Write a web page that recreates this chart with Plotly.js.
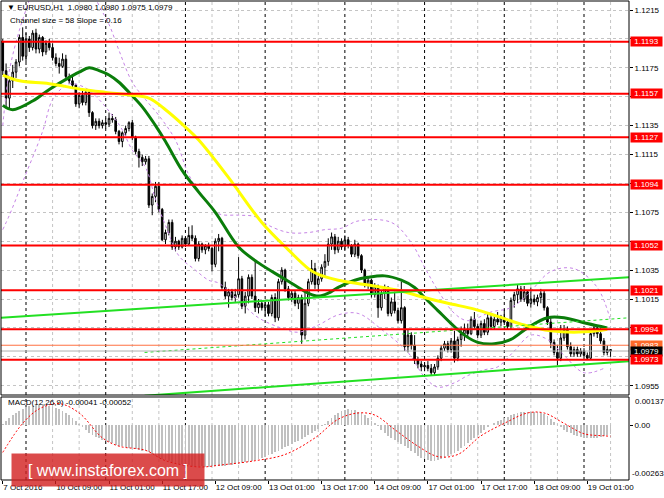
<!DOCTYPE html>
<html>
<head>
<meta charset="utf-8">
<script src="https://cdn.plot.ly/plotly-3.0.1.min.js"></script>
<style>html,body{margin:0;padding:0;background:#fff}#chart{width:664px;height:498px}</style>
</head>
<body>
<div id="chart"></div>
<script>
// ---- EURUSD H1 candles (7 Oct 2016 17:00 .. 19 Oct 2016 08:00) ----
const open = [
1.1193,1.1173,1.1154,1.1166,1.1172,1.1179,1.1196,1.1183,1.1195,1.1189,
1.1199,1.1188,1.1196,1.1186,1.1192,1.1189,1.1182,1.1178,1.1176,1.1181,
1.1169,1.1166,1.1163,1.1150,1.1156,1.1151,1.1158,1.1144,1.1135,1.1138,
1.1135,1.1137,1.1136,1.1140,1.1139,1.1131,1.1124,1.1130,1.1133,1.1137,
1.1127,1.1117,1.1113,1.1110,1.1112,1.1080,1.1086,1.1093,1.1077,1.1056,
1.1061,1.1068,1.1051,1.1055,1.1051,1.1057,1.1053,1.1059,1.1057,1.1043,
1.1053,1.1049,1.1052,1.1050,1.1039,1.1055,1.1057,1.1023,1.1017,1.1020,
1.1016,1.1018,1.1029,1.1010,1.1017,1.1030,1.1017,1.1009,1.1012,1.1009,
1.1011,1.1005,1.1016,1.1002,1.1027,1.1035,1.1022,1.1016,1.1019,1.1012,
1.1016,1.0990,1.1012,1.1027,1.1036,1.1025,1.1029,1.1037,1.1041,1.1053,
1.1058,1.1049,1.1055,1.1051,1.1056,1.1052,1.1046,1.1053,1.1045,1.1035,
1.1025,1.1028,1.1018,1.1024,1.1009,1.1019,1.1023,1.1005,1.1013,1.1007,
1.1000,1.1009,1.0982,1.0990,1.0983,1.0973,1.0970,1.0968,1.0969,1.0967,
1.0964,1.0968,1.0974,1.0981,1.0984,1.0980,1.0986,1.0974,1.0987,1.0991,
1.0994,1.0991,1.1001,1.0996,1.0990,1.0998,1.0992,1.1002,1.0996,1.1001,
1.0999,1.1002,1.0999,1.0996,1.1014,1.1018,1.1022,1.1015,1.1020,1.1012,
1.1015,1.1013,1.1016,1.1019,1.1009,1.0999,1.0985,1.0978,1.0974,1.0988,
1.0994,1.0982,1.0977,1.0980,1.0977,1.0979,1.0976,1.0974,1.0991,1.0995,
1.0991,1.0986,1.0978,1.0980];
const high = [
1.1195,1.1178,1.1168,1.1177,1.1181,1.1198,1.1203,1.1199,1.1197,1.1201,
1.1202,1.1198,1.1197,1.1194,1.1195,1.1192,1.1185,1.1182,1.1185,1.1184,
1.1171,1.1169,1.1164,1.1158,1.1159,1.1160,1.1160,1.1145,1.1140,1.1140,
1.1139,1.1140,1.1144,1.1143,1.1141,1.1132,1.1131,1.1135,1.1138,1.1139,
1.1128,1.1119,1.1115,1.1114,1.1114,1.1088,1.1096,1.1096,1.1078,1.1063,
1.1070,1.1070,1.1058,1.1056,1.1059,1.1058,1.1065,1.1066,1.1059,1.1055,
1.1054,1.1053,1.1054,1.1051,1.1057,1.1060,1.1058,1.1027,1.1022,1.1022,
1.1022,1.1044,1.1031,1.1020,1.1032,1.1032,1.1042,1.1015,1.1014,1.1013,
1.1013,1.1018,1.1019,1.1029,1.1037,1.1036,1.1024,1.1021,1.1021,1.1018,
1.1018,1.1021,1.1029,1.1042,1.1040,1.1031,1.1039,1.1046,1.1057,1.1061,
1.1060,1.1058,1.1057,1.1059,1.1058,1.1053,1.1056,1.1054,1.1046,1.1036,
1.1030,1.1029,1.1026,1.1025,1.1021,1.1025,1.1024,1.1016,1.1020,1.1009,
1.1027,1.1010,1.0994,1.0992,1.0990,1.0975,1.0972,1.0971,1.0972,1.0970,
1.0970,1.0976,1.0983,1.0986,1.0986,1.0988,1.0993,1.0989,1.0996,1.0998,
1.0998,1.1003,1.1006,1.0998,1.1000,1.1001,1.1005,1.1004,1.1003,1.1006,
1.1004,1.1008,1.1001,1.1016,1.1020,1.1025,1.1024,1.1024,1.1021,1.1023,
1.1018,1.1018,1.1022,1.1021,1.1010,1.1003,1.0987,1.0983,1.0997,1.0997,
1.0996,1.0985,1.0982,1.0982,1.0981,1.0981,1.0978,1.0993,1.0997,1.0997,
1.0995,1.0988,1.0983,1.0980];
const low = [
1.1170,1.1147,1.1146,1.1161,1.1168,1.1176,1.1180,1.1179,1.1186,1.1187,
1.1185,1.1185,1.1183,1.1184,1.1187,1.1180,1.1176,1.1171,1.1175,1.1167,
1.1164,1.1161,1.1148,1.1147,1.1149,1.1149,1.1141,1.1133,1.1132,1.1133,
1.1133,1.1133,1.1134,1.1137,1.1129,1.1122,1.1120,1.1128,1.1131,1.1125,
1.1115,1.1106,1.1107,1.1108,1.1078,1.1073,1.1082,1.1075,1.1055,1.1053,
1.1059,1.1049,1.1048,1.1049,1.1050,1.1051,1.1052,1.1055,1.1041,1.1041,
1.1047,1.1046,1.1048,1.1034,1.1037,1.1048,1.1021,1.1015,1.1009,1.1014,
1.1013,1.1016,1.1008,1.1005,1.1012,1.1015,1.1006,1.1005,1.1007,1.1003,
1.1003,1.1003,1.0999,1.1000,1.1025,1.1020,1.1014,1.1013,1.1010,1.1008,
1.0984,1.0987,1.1010,1.1025,1.1022,1.1020,1.1027,1.1031,1.1038,1.1049,
1.1046,1.1047,1.1049,1.1049,1.1050,1.1044,1.1044,1.1043,1.1033,1.1023,
1.1022,1.1016,1.1016,1.1002,1.1007,1.1015,1.1003,1.1003,1.1005,1.0998,
1.0998,1.0979,1.0978,1.0980,1.0970,1.0967,1.0965,1.0965,1.0965,1.0962,
1.0962,1.0966,1.0972,1.0979,1.0978,1.0978,1.0971,1.0972,1.0982,1.0986,
1.0988,1.0990,1.0994,1.0988,1.0988,1.0990,1.0990,1.0994,1.0994,1.0997,
1.0996,1.0997,1.0994,1.0994,1.1009,1.1012,1.1013,1.1013,1.1010,1.1009,
1.1011,1.1010,1.1012,1.1007,1.0997,1.0981,1.0976,1.0969,1.0972,1.0986,
1.0980,1.0975,1.0975,1.0975,1.0975,1.0975,1.0973,1.0973,1.0989,1.0988,
1.0984,1.0976,1.0976,1.0975];
const close = [
1.1173,1.1154,1.1166,1.1172,1.1179,1.1196,1.1183,1.1195,1.1189,1.1199,
1.1188,1.1196,1.1186,1.1192,1.1189,1.1182,1.1178,1.1176,1.1181,1.1169,
1.1166,1.1163,1.1150,1.1156,1.1151,1.1158,1.1144,1.1135,1.1138,1.1135,
1.1137,1.1136,1.1140,1.1139,1.1131,1.1124,1.1130,1.1133,1.1137,1.1127,
1.1117,1.1113,1.1110,1.1112,1.1080,1.1086,1.1093,1.1077,1.1056,1.1061,
1.1068,1.1051,1.1055,1.1051,1.1057,1.1053,1.1059,1.1057,1.1043,1.1053,
1.1049,1.1052,1.1050,1.1039,1.1055,1.1057,1.1023,1.1017,1.1020,1.1016,
1.1018,1.1029,1.1010,1.1017,1.1030,1.1017,1.1009,1.1012,1.1009,1.1011,
1.1005,1.1016,1.1002,1.1027,1.1035,1.1022,1.1016,1.1019,1.1012,1.1016,
1.0990,1.1012,1.1027,1.1036,1.1025,1.1029,1.1037,1.1041,1.1053,1.1058,
1.1049,1.1055,1.1051,1.1056,1.1052,1.1046,1.1053,1.1045,1.1035,1.1025,
1.1028,1.1018,1.1024,1.1009,1.1019,1.1023,1.1005,1.1013,1.1007,1.1000,
1.1009,1.0982,1.0990,1.0983,1.0973,1.0970,1.0968,1.0969,1.0967,1.0964,
1.0968,1.0974,1.0981,1.0984,1.0980,1.0986,1.0974,1.0987,1.0991,1.0994,
1.0991,1.1001,1.0996,1.0990,1.0998,1.0992,1.1002,1.0996,1.1001,1.0999,
1.1002,1.0999,1.0996,1.1014,1.1018,1.1022,1.1015,1.1020,1.1012,1.1015,
1.1013,1.1016,1.1019,1.1009,1.0999,1.0985,1.0978,1.0974,1.0988,1.0994,
1.0982,1.0977,1.0980,1.0977,1.0979,1.0976,1.0974,1.0991,1.0995,1.0991,
1.0986,1.0978,1.0980,1.0979];

// ---- moving averages (bar index, price) ----
const greenMaX = [0,3,9,14,19,23,26,29,32,35,38,42,46,49,54,59,64,71,77,84,89,92,95,98,101,106,110,115,120,124,127,131,135,139,143,148,153,158,164,169,176,182];
const greenMaY = [1.1149,1.1146,1.1152,1.1160,1.1167,1.1172,1.1175,1.1173,1.1170,1.1165,1.1158,1.1148,1.1135,1.1124,1.1104,1.1089,1.1075,1.1051,1.1040,1.1030,1.1023,1.1019,1.1017,1.1019,1.1023,1.1028,1.1030,1.1031,1.1028,1.1023,1.1016,1.1007,1.0998,1.0990,1.0985,1.0984,1.0987,1.0995,1.1002,1.1002,1.0998,1.0995];
const yellowMaX = [0,5,14,24,31,39,44,49,55,59,68,78,86,92,95,101,109,119,127,134,142,149,157,165,172,179,182];
const yellowMaY = [1.1170,1.1166,1.1164,1.1160,1.1158,1.1156,1.1154,1.1146,1.1134,1.1125,1.1099,1.1068,1.1049,1.1036,1.1032,1.1028,1.1025,1.1021,1.1016,1.1012,1.1008,1.1003,1.0997,1.0993,1.0992,1.0993,1.0994];

// ---- envelope bands (dashed violet) ----
const upperBandX = [0,2,5,8,11,20,26,29,32,35,39,43,47,52,56,61,65,71,76,80,86,92,97,102,107,117,123,127,131,136,140,147,153,158,165,172,179,183];
const upperBandY = [1.1135,1.1173,1.1201,1.1222,1.1243,1.1250,1.1232,1.1218,1.1205,1.1187,1.1165,1.1153,1.1142,1.1125,1.1101,1.1083,1.1074,1.1073,1.1072,1.1066,1.1061,1.1061,1.1063,1.1064,1.1069,1.1068,1.1054,1.1037,1.1021,1.1005,1.1000,1.1006,1.1009,1.1018,1.1034,1.1036,1.1023,1.1000];
const lowerBandX = [0,2,6,12,15,19,21,25,29,34,36,39,43,46,49,53,58,62,65,71,77,85,89,95,101,107,114,122,127,131,136,140,145,149,154,159,164,169,175,181];
const lowerBandY = [1.1063,1.1073,1.1096,1.1131,1.1153,1.1163,1.1164,1.1161,1.1153,1.1139,1.1132,1.1118,1.1106,1.1084,1.1066,1.1045,1.1035,1.1028,1.1026,1.1014,1.1002,1.0994,1.0992,1.0997,1.1004,1.1005,1.0994,1.0978,1.0961,1.0954,1.0957,1.0962,1.0966,1.0968,1.0979,1.0990,1.0987,1.0976,1.0964,1.0967];

// ---- channel trend lines ----
const chanUpperX = [-0.53,188.55], chanUpperY = [1.1002,1.1030];
const chanMidX = [42.7,188.55], chanMidY = [1.0978,1.1002];
const chanLowerX = [42.7,188.55], chanLowerY = [1.0948,1.0972];

// ---- horizontal levels ----
const levels = [1.1193,1.1157,1.1127,1.1094,1.1052,1.1021,1.0994,1.0973];
const askLevel = 1.0983, bidLevel = 1.0979;

// ---- MACD(12,26,9) ----
const macdHist = [
0.00005,0.0002,0.00035,0.0005,0.0006,0.0007,0.0008,0.00088,0.00092,0.00095,
0.00097,0.00098,0.00098,0.00096,0.00093,0.0009,0.00085,0.0008,0.0007,0.0006,
0.00048,0.00035,0.0002,0.00005,-0.0001,-0.00022,-0.00035,-0.00045,-0.00055,-0.00063,
-0.0007,-0.00076,-0.00082,-0.00087,-0.00092,-0.00097,-0.001,-0.00103,-0.00107,-0.0011,
-0.00114,-0.00118,-0.00122,-0.00125,-0.0013,-0.0014,-0.00148,-0.00155,-0.00162,-0.00168,
-0.00173,-0.00178,-0.00182,-0.00185,-0.00188,-0.0019,-0.00192,-0.00194,-0.00195,-0.00196,
-0.00197,-0.00198,-0.00198,-0.00197,-0.00196,-0.00195,-0.00195,-0.00194,-0.00192,-0.0019,
-0.00188,-0.00185,-0.00182,-0.00178,-0.00174,-0.0017,-0.00166,-0.0016,-0.00155,-0.0015,
-0.00143,-0.00136,-0.0013,-0.00122,-0.00114,-0.00106,-0.00098,-0.0009,-0.00082,-0.00073,
-0.00064,-0.00055,-0.00045,-0.00035,-0.00025,-0.00015,-0.00005,0.00005,0.0002,0.00035,
0.00048,0.0006,0.00068,0.00074,0.00077,0.00076,0.00072,0.00066,0.00058,0.00048,
0.00035,0.00022,0.0001,-0.00005,-0.0002,-0.00035,-0.0005,-0.0006,-0.0007,-0.0008,
-0.0009,-0.001,-0.0011,-0.00122,-0.00135,-0.00145,-0.00155,-0.00162,-0.00168,-0.0017,
-0.0017,-0.00168,-0.00162,-0.00155,-0.00148,-0.0014,-0.00132,-0.00122,-0.0011,-0.00098,
-0.00085,-0.00072,-0.0006,-0.00048,-0.00035,-0.00022,-0.0001,0.00002,0.00012,0.0002,
0.00028,0.00035,0.00042,0.0005,0.00056,0.0006,0.00063,0.00065,0.00066,0.00066,
0.00065,0.00063,0.0006,0.00055,0.00045,0.00032,0.00018,0.00005,-0.00008,-0.0002,
-0.0003,-0.00038,-0.00045,-0.0005,-0.00055,-0.00059,-0.00062,-0.00063,-0.00062,-0.0006,
-0.00055,-0.0005,-0.00045,-0.00041];
const signalX = [0,6,11,17,23,30,35,43,49,59,66,76,85,94,101,107,112,118,125,131,137,144,151,158,163,169,175,181,183];
const signalY = [-0.0013,0.0001,0.0008,0.00105,0.0006,-0.0006,-0.001,-0.0012,-0.0017,-0.0020,-0.0019,-0.0017,-0.0014,-0.0006,0.0003,0.0006,0.0005,-0.0002,-0.001,-0.0015,-0.0014,-0.0005,0.0001,0.0006,0.0006,0.0001,-0.0004,-0.0005,-0.00052];

// ---- axis labels ----
const priceTicks = [1.0955,1.0975,1.0995,1.1015,1.1035,1.1055,1.1075,1.1095,1.1115,1.1135,1.1155,1.1175,1.1195,1.1215];
// labels that the level boxes cover in the original are left blank
const priceTickLabels = ['1.0955','','','1.1015','1.1035','','1.1075','','1.1115','1.1135','','1.1175','','1.1215'];
const timeTickBars = [0,16,32,48,64,80,96,112,128,144,160,176];
const timeTickLabels = ['7 Oct 2016','10 Oct 09:00','11 Oct 01:00','11 Oct 17:00','12 Oct 09:00','13 Oct 01:00','13 Oct 17:00','14 Oct 09:00','17 Oct 01:00','17 Oct 17:00','18 Oct 09:00','19 Oct 01:00'];
const daySeparatorBars = [7,31,55,79,103,127,151,175];
const gridBars = [15,23,39,47,63,71,87,95,111,119,135,143,159,167,183];

const barIndex = close.map((_, i) => i);
const FONT = 'Liberation Sans, Arial, sans-serif';
const DASH = '3px,3px';

const traces = [
  {type:'scatter', mode:'lines', x:upperBandX, y:upperBandY, xaxis:'x', yaxis:'y',
   line:{color:'#c684e6', width:1, dash:DASH, shape:'spline'}, hoverinfo:'skip'},
  {type:'scatter', mode:'lines', x:lowerBandX, y:lowerBandY, xaxis:'x', yaxis:'y',
   line:{color:'#c684e6', width:1, dash:DASH, shape:'spline'}, hoverinfo:'skip'},
  {type:'candlestick', x:barIndex, open:open, high:high, low:low, close:close, xaxis:'x', yaxis:'y',
   increasing:{line:{color:'#000', width:1}, fillcolor:'#ffffff'},
   decreasing:{line:{color:'#000', width:1}, fillcolor:'#000000'},
   whiskerwidth:0, hoverinfo:'skip'},
  {type:'scatter', mode:'lines', x:greenMaX, y:greenMaY, xaxis:'x', yaxis:'y',
   line:{color:'#0a7d0a', width:3, shape:'spline'}, hoverinfo:'skip'},
  {type:'scatter', mode:'lines', x:yellowMaX, y:yellowMaY, xaxis:'x', yaxis:'y',
   line:{color:'#ffff00', width:3, shape:'spline'}, hoverinfo:'skip'},
  {type:'scatter', mode:'lines', x:chanUpperX, y:chanUpperY, xaxis:'x', yaxis:'y',
   line:{color:'#22e022', width:2}, hoverinfo:'skip'},
  {type:'scatter', mode:'lines', x:chanMidX, y:chanMidY, xaxis:'x', yaxis:'y',
   line:{color:'#22e022', width:1, dash:DASH}, hoverinfo:'skip'},
  {type:'scatter', mode:'lines', x:chanLowerX, y:chanLowerY, xaxis:'x', yaxis:'y',
   line:{color:'#22e022', width:2}, hoverinfo:'skip'},
  {type:'bar', x:barIndex, y:macdHist, xaxis:'x', yaxis:'y2', width:0.55,
   marker:{color:'#c0c0c0', line:{width:0}}, hoverinfo:'skip'},
  {type:'scatter', mode:'lines', x:signalX, y:signalY, xaxis:'x', yaxis:'y2',
   line:{color:'#ff0000', width:1, dash:'2px,2px', shape:'spline'}, hoverinfo:'skip'}
];

const shapes = [];
['y domain','y2 domain'].forEach(yr => {
  gridBars.forEach(b => shapes.push({type:'line', layer:'below', xref:'x', yref:yr, x0:b, x1:b, y0:0, y1:1,
    line:{color:'#c4c4c4', width:1, dash:DASH}}));
  daySeparatorBars.forEach(b => shapes.push({type:'line', layer:'below', xref:'x', yref:yr, x0:b, x1:b, y0:0, y1:1,
    line:{color:'#000', width:1, dash:DASH}}));
});
shapes.push({type:'line', layer:'above', xref:'paper', yref:'y', x0:0, x1:1, y0:askLevel, y1:askLevel, line:{color:'#ff7040', width:1}});
shapes.push({type:'line', layer:'above', xref:'paper', yref:'y', x0:0, x1:1, y0:bidLevel, y1:bidLevel, line:{color:'#b0b0b0', width:1}});
levels.forEach(v => shapes.push({type:'line', layer:'above', xref:'paper', yref:'y', x0:0, x1:1, y0:v, y1:v,
  line:{color:'#ff0000', width:2}}));
shapes.push({type:'rect', layer:'above', xref:'paper', yref:'y domain', x0:0, x1:1, y0:0, y1:1, line:{color:'#000', width:1}});
shapes.push({type:'rect', layer:'above', xref:'paper', yref:'y2 domain', x0:0, x1:1, y0:0, y1:1, line:{color:'#000', width:1}});

const annotations = [
  {xref:'paper', yref:'paper', x:0.006, y:0.987, xanchor:'left', yanchor:'middle', showarrow:false,
   text:'\u25BC EURUSD,H1  1.0980 1.0980 1.0975 1.0979', font:{family:FONT, size:8, color:'#000'}},
  {xref:'paper', yref:'paper', x:0.011, y:0.960, xanchor:'left', yanchor:'middle', showarrow:false,
   text:'Channel size = 58 Slope = 0.16', font:{family:FONT, size:8, color:'#000'}},
  {xref:'paper', yref:'paper', x:0.008, y:0.161, xanchor:'left', yanchor:'middle', showarrow:false,
   text:'MACD(12,26,9) -0.00041 -0.00052', font:{family:FONT, size:8, color:'#000'}},
  {xref:'paper', yref:'y2', x:1, y:0.00116, xanchor:'left', yanchor:'middle', xshift:4, showarrow:false,
   text:'0.00137', font:{family:FONT, size:8, color:'#000'}},
  {xref:'paper', yref:'y2', x:1, y:-0.00234, xanchor:'left', yanchor:'middle', xshift:1, showarrow:false,
   text:'-0.00263', font:{family:FONT, size:8, color:'#000'}},
  {xref:'paper', yref:'y', x:1, y:askLevel, xanchor:'left', yanchor:'middle', xshift:1, showarrow:false,
   width:31, height:9, borderpad:0, bgcolor:'#ff6a2a', text:askLevel.toFixed(4), font:{family:FONT, size:8, color:'#fff'}},
  {xref:'paper', yref:'y', x:1, y:bidLevel, xanchor:'left', yanchor:'middle', xshift:1, showarrow:false,
   width:31, height:9, borderpad:0, bgcolor:'#000000', text:bidLevel.toFixed(4), font:{family:FONT, size:8, color:'#fff'}}
];
levels.forEach(v => annotations.push({xref:'paper', yref:'y', x:1, y:v, xanchor:'left', yanchor:'middle', xshift:1,
  showarrow:false, width:31, height:9, borderpad:0, bgcolor:'#ff0000', text:v.toFixed(4),
  font:{family:FONT, size:8, color:'#fff'}}));
annotations.push({xref:'paper', yref:'paper', x:0.1704, y:0.021, xanchor:'center', yanchor:'middle', showarrow:false,
  width:190, height:30, bgcolor:'rgba(210,30,30,0.8)', text:'[ www.instaforex.com ]',
  font:{family:FONT, size:16, color:'#ffffff'}});

const layout = {
  width:664, height:498, margin:{l:1, r:35, t:1, b:18},
  paper_bgcolor:'#ffffff', plot_bgcolor:'#ffffff', showlegend:false, bargap:0,
  font:{family:FONT, size:8, color:'#000'},
  xaxis:{range:[-0.53,188.55], anchor:'y2', tickmode:'array', tickvals:timeTickBars, ticktext:timeTickLabels,
    ticks:'outside', ticklen:3, tickcolor:'#000', ticklabelposition:'outside right', tickangle:0,
    ticklabelstandoff:-1,
    tickfont:{family:FONT, size:8, color:'#000'}, showgrid:false, zeroline:false, showline:false,
    rangeslider:{visible:false}, fixedrange:true},
  yaxis:{domain:[0.17745,1], range:[1.094856,1.122123], side:'right', anchor:'x', tickmode:'array',
    tickvals:priceTicks, ticktext:priceTickLabels, ticks:'outside', ticklen:3, tickcolor:'#000',
    tickfont:{family:FONT, size:8, color:'#000'}, showgrid:true, gridcolor:'#c4c4c4', griddash:DASH, gridwidth:1,
    zeroline:false, showline:false, fixedrange:true},
  yaxis2:{domain:[0,0.17328], range:[-0.00263,0.00137], side:'right', anchor:'x', tickmode:'array',
    tickvals:[0], ticktext:['0.00'], ticks:'outside', ticklen:3, tickcolor:'#000',
    tickfont:{family:FONT, size:8, color:'#000'}, showgrid:false, zeroline:false, showline:false, fixedrange:true},
  shapes:shapes, annotations:annotations
};

Plotly.newPlot('chart', traces, layout, {staticPlot:true, displayModeBar:false});
</script>
</body>
</html>
